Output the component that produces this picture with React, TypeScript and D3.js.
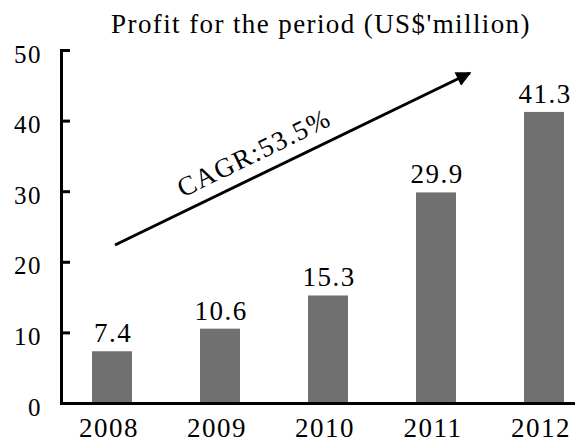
import React from "react";
import * as d3 from "d3";

const years: string[] = ["2008", "2009", "2010", "2011", "2012"];
const profit: number[] = [7.4, 10.6, 15.3, 29.9, 41.3];
const yTicks: number[] = [0, 10, 20, 30, 40, 50];
const title = "Profit for the period (US$'million)";
const cagrLabel = "CAGR:53.5%";

const W = 575;
const H = 443;
const FONT = "'Liberation Serif', 'Times New Roman', serif";

export default function App() {
  const x = d3.scaleBand<string>().domain(years).range([58, 598]).paddingInner(0.63).paddingOuter(0.315);
  const y = d3.scaleLinear().domain([0, 50]).range([403.5, 50.5]);
  const axisX = 61.5;

  return (
    <svg
      width={W}
      height={H}
      viewBox={`0 0 ${W} ${H}`}
      style={{ position: "absolute", left: 0, top: 0, display: "block", background: "#fff" }}
      fontFamily={FONT}
    >
      <defs>
        <marker id="ah" viewBox="0 0 10 10" refX="9" refY="5" markerWidth="6.5" markerHeight="5" markerUnits="strokeWidth" orient="auto">
          <path d="M0,0 L10,5 L0,10 Z" fill="#000" />
        </marker>
      </defs>

      <text x={321} y={33} textAnchor="middle" fontSize={27} letterSpacing={1.4} fill="#000">
        {title}
      </text>

      {years.map((yr, i) => (
        <rect
          key={yr}
          x={x(yr)!}
          y={y(profit[i])}
          width={x.bandwidth()}
          height={y(0) - y(profit[i])}
          fill="#707070"
        />
      ))}

      {years.map((yr, i) => (
        <text
          key={"v" + yr}
          x={x(yr)! + x.bandwidth() / 2 + 1}
          y={y(profit[i]) - 9}
          textAnchor="middle"
          fontSize={27}
          letterSpacing={1.5}
          fill="#000"
        >
          {profit[i].toFixed(1)}
        </text>
      ))}

      {/* y axis */}
      <line x1={axisX} x2={axisX} y1={y(50) - 1.5} y2={y(0) + 1.5} stroke="#000" strokeWidth={3} />
      {yTicks.map((t) => (
        <g key={"t" + t}>
          {t > 0 && <line x1={axisX} x2={70} y1={y(t)} y2={y(t)} stroke="#000" strokeWidth={3} />}
          <text x={42} y={y(t) + 12} textAnchor="end" fontSize={25} letterSpacing={1.5} fill="#000">
            {t}
          </text>
        </g>
      ))}

      {/* x axis */}
      <line x1={axisX - 1.5} x2={W} y1={y(0)} y2={y(0)} stroke="#000" strokeWidth={3} />
      {years.map((yr) => (
        <text
          key={"x" + yr}
          x={x(yr)! + x.bandwidth() / 2 - 3}
          y={437}
          textAnchor="middle"
          fontSize={27}
          letterSpacing={1.5}
          fill="#000"
        >
          {yr}
        </text>
      ))}

      {/* CAGR arrow */}
      <line x1={115} y1={245} x2={470} y2={73} stroke="#000" strokeWidth={3} markerEnd="url(#ah)" />
      <text
        x={258}
        y={161}
        textAnchor="middle"
        fontSize={27}
        letterSpacing={1.5}
        fill="#000"
        transform="rotate(-26 258 161)"
      >
        {cagrLabel}
      </text>
    </svg>
  );
}
